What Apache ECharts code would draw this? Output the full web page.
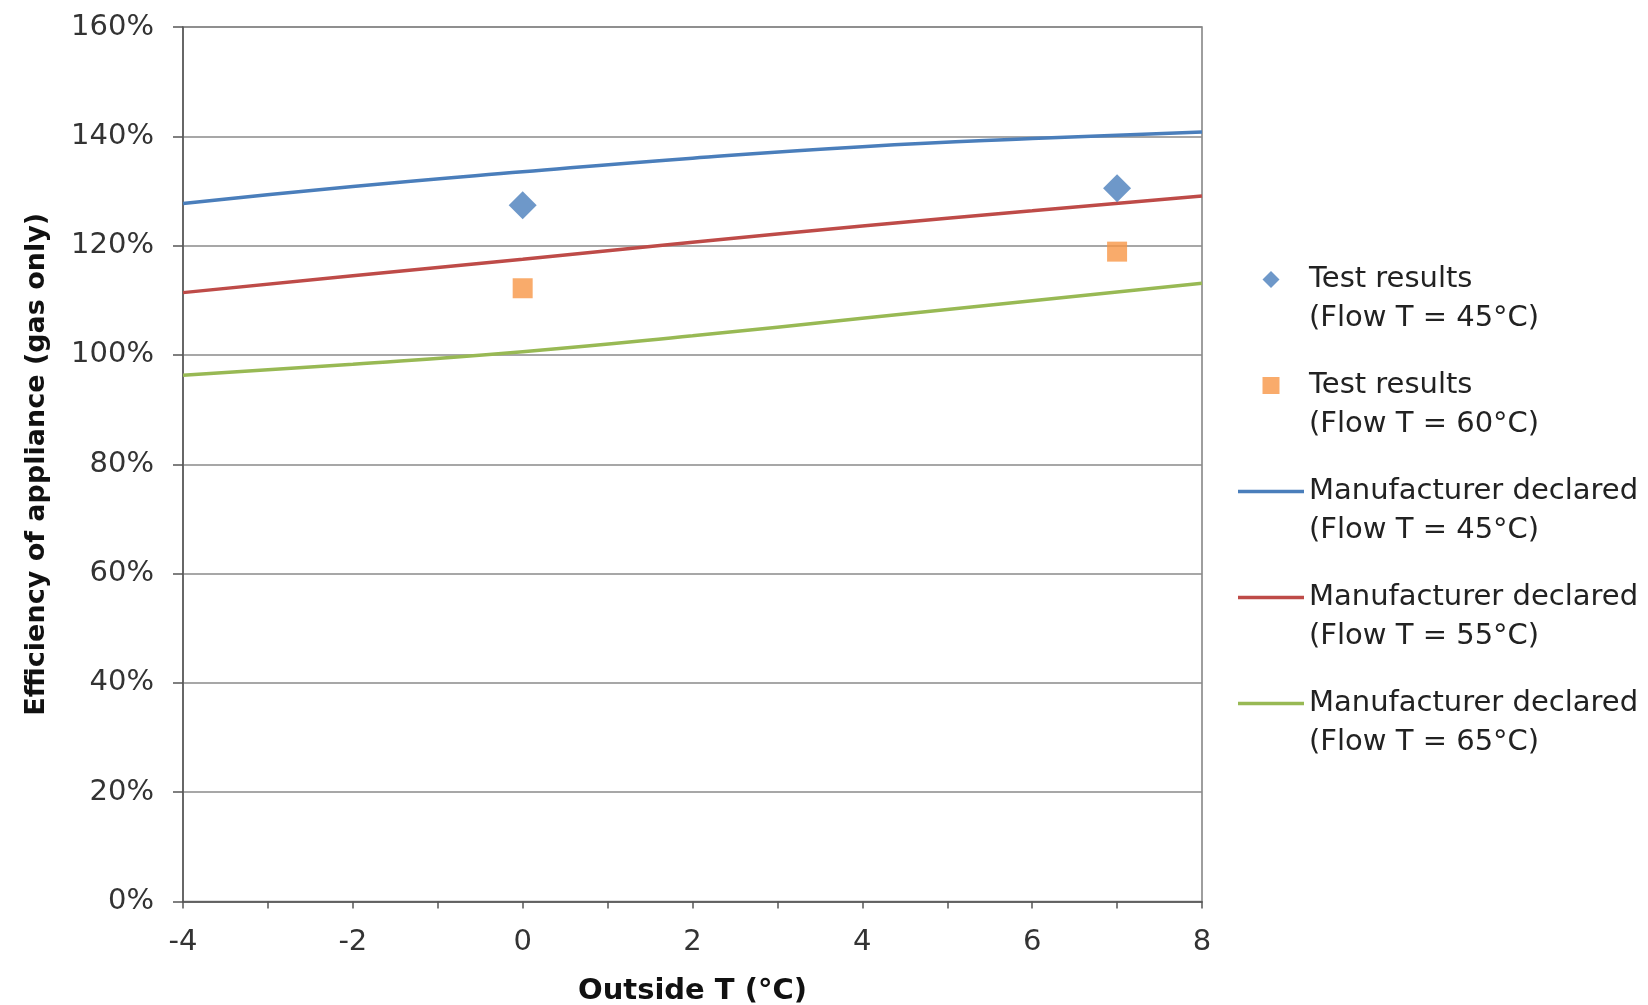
<!DOCTYPE html>
<html>
<head>
<meta charset="utf-8">
<title>Efficiency of appliance</title>
<script src="https://cdn.jsdelivr.net/npm/echarts@6/dist/echarts.min.js"></script>
<style>
    html, body { margin: 0; padding: 0; background: #fff; }
    #mainarea { width: 1648px; height: 1005px; }
</style>
</head>
<body>
<div id="mainarea"></div>
<script>
// outside temperature (°C) where the declared curves are read
var outsideT = [-4, -2, 0, 2, 4, 6, 8];
// manufacturer declared efficiency (fraction)
var declared45 = [1.277, 1.308, 1.335, 1.360, 1.381, 1.396, 1.408];
var declared55 = [1.114, 1.145, 1.175, 1.206, 1.236, 1.264, 1.291];
var declared65 = [0.963, 0.983, 1.006, 1.035, 1.067, 1.099, 1.131];

// measured points
var testT = [0, 7];
var test45 = [1.274, 1.305];
var test60 = [1.122, 1.189];

var yTicks = [0, 0.2, 0.4, 0.6, 0.8, 1.0, 1.2, 1.4, 1.6];

var names = [
    'Test results\n(Flow T = 45°C)',
    'Test results\n(Flow T = 60°C)',
    'Manufacturer declared\n(Flow T = 45°C)',
    'Manufacturer declared\n(Flow T = 55°C)',
    'Manufacturer declared\n(Flow T = 65°C)'
];

function pairs(xs, ys) {
    let out = [];
    for (let i = 0; i < xs.length; ++i) {
        out.push([xs[i], ys[i]]);
    }
    return out;
}

// legend icons: small marker for the points, flat bar for the curves
var diamondIcon = 'path://M8,0L16,8L8,16L0,8Z';
var squareIcon = 'path://M0,0H17V17H0Z';
var lineIcon = 'path://M0,0H66V3.5H0Z';

var font = 'DejaVu Sans';
var myChart = echarts.init(document.getElementById('mainarea'));
var option = {
    backgroundColor: '#ffffff',
    animation: false,
    grid: {
        left: 183, right: 446, top: 27, bottom: 103.5,
        outerBoundsMode: 'none',
        containLabel: false,
        show: true, borderColor: '#7f7f7f', borderWidth: 1.5
    },
    legend: {
        orient: 'vertical',
        left: 1238, top: 221,
        padding: 0,
        itemWidth: 66, itemHeight: 17,
        itemGap: -11,
        symbolKeepAspect: true,
        data: [
            { name: names[0], icon: diamondIcon },
            { name: names[1], icon: squareIcon },
            { name: names[2], icon: lineIcon },
            { name: names[3], icon: lineIcon },
            { name: names[4], icon: lineIcon }
        ],
        // empty first line keeps the icon level with the first text line
        formatter: function (n) { return '\n' + n; },
        textStyle: {
            fontFamily: font, fontSize: 29, color: '#222', lineHeight: 39
        }
    },
    xAxis: {
        type: 'value',
        min: -4, max: 8, interval: 2,
        name: 'Outside T (°C)',
        nameLocation: 'middle',
        nameGap: 75,
        nameTextStyle: { fontFamily: font, fontSize: 29, fontWeight: 'bold', color: '#111' },
        axisLine: { show: true, onZero: false, lineStyle: { color: '#555', width: 1.5 } },
        axisTick: { show: true, length: 7, lineStyle: { color: '#555', width: 1.5 } },
        minorTick: { show: true, splitNumber: 2, length: 7, lineStyle: { color: '#555', width: 1.5 } },
        splitLine: { show: false },
        axisLabel: { margin: 26, fontFamily: font, fontSize: 29, color: '#333' }
    },
    yAxis: {
        type: 'value',
        min: yTicks[0], max: yTicks[yTicks.length - 1], interval: 0.2,
        name: 'Efficiency of appliance (gas only)',
        nameLocation: 'middle',
        nameGap: 133,
        nameTextStyle: { fontFamily: font, fontSize: 27, fontWeight: 'bold', color: '#111' },
        axisLine: { show: true, onZero: false, lineStyle: { color: '#555', width: 1.5 } },
        axisTick: { show: true, length: 10, lineStyle: { color: '#555', width: 1.5 } },
        splitLine: { show: true, lineStyle: { color: '#8a8a8a', width: 1.5 } },
        axisLabel: {
            margin: 29, fontFamily: font, fontSize: 29, color: '#333',
            formatter: function (v) { return Math.round(v * 100) + '%'; }
        }
    },
    series: [
        {
            name: names[0], type: 'scatter',
            symbol: 'diamond', symbolSize: 28,
            itemStyle: { color: '#4a7ebb' },
            data: pairs(testT, test45), z: 5
        },
        {
            name: names[1], type: 'scatter',
            symbol: 'rect', symbolSize: 20,
            itemStyle: { color: '#f79646' },
            data: pairs(testT, test60), z: 5
        },
        {
            name: names[2], type: 'line', smooth: true, symbol: 'none',
            lineStyle: { color: '#4a7ebb', width: 3.5 },
            itemStyle: { color: '#4a7ebb' },
            data: pairs(outsideT, declared45)
        },
        {
            name: names[3], type: 'line', smooth: true, symbol: 'none',
            lineStyle: { color: '#be4b48', width: 3.5 },
            itemStyle: { color: '#be4b48' },
            data: pairs(outsideT, declared55)
        },
        {
            name: names[4], type: 'line', smooth: true, symbol: 'none',
            lineStyle: { color: '#98b954', width: 3.5 },
            itemStyle: { color: '#98b954' },
            data: pairs(outsideT, declared65)
        }
    ]
};
myChart.setOption(option);
</script>
</body>
</html>
